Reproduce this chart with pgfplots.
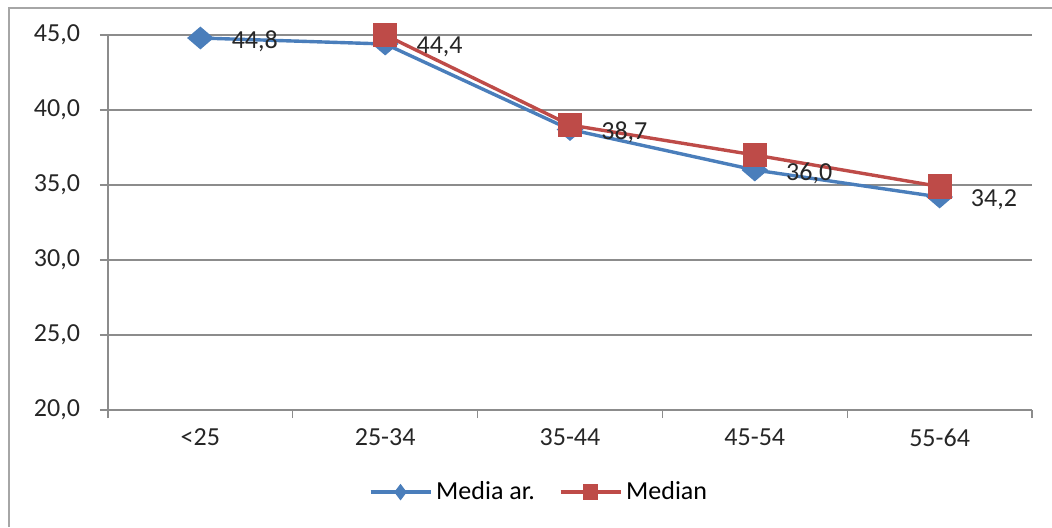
\documentclass[border=0pt]{standalone}
\usepackage{fontspec}
\setmainfont{Carlito}
\usepackage{pgfplots}
\pgfplotsset{compat=1.18}
\usetikzlibrary{calc}

\definecolor{serblue}{HTML}{4A7EBB}
\definecolor{serred}{HTML}{BE4B48}
\definecolor{gridgray}{HTML}{8C8C8C}

\newcommand{\chartfont}{\fontsize{13}{15}\selectfont}

\begin{document}
\begin{tikzpicture}
\begin{axis}[
    name=ax,
    scale only axis,
    width=462pt, height=187.5pt,
    xmin=-0.5, xmax=4.5,
    ymin=20, ymax=45,
    xtick={0,1,2,3,4},
    xticklabels={<25,25-34,35-44,45-54,55-64},
    minor xtick={-0.5,0.5,1.5,2.5,3.5,4.5},
    major x tick style={draw=none},
    ytick={20,25,30,35,40,45},
    ymajorgrids=true,
    grid style={gridgray, line width=0.6pt},
    axis lines*=left,
    axis line style={gridgray, line width=0.6pt, -},
    tick align=outside,
    major tick length=4pt, minor tick length=4pt,
    tick style={gridgray, line width=0.6pt},
    /pgf/number format/assume math mode=true,
    tick label style={font=\chartfont, text=black!85},
    y tick label style={xshift=-6.5pt, /pgf/number format/.cd, fixed, fixed zerofill, precision=1, use comma},
    x tick label style={yshift=-2pt},
    legend style={at={(0.4675,-0.219)}, anchor=center, draw=none, font=\chartfont,
        /tikz/every even column/.append style={column sep=10pt}},
    legend columns=2,
    legend image code/.code={
        \draw[mark repeat=2, mark phase=2, mark options={scale=0.6}]
            plot coordinates {(0pt,0pt) (15pt,0pt) (30pt,0pt)};
    },
    clip=false,
]

\addplot[
    serblue, line width=1.7pt,
    mark=diamond*, mark size=4.6pt,
    mark options={xscale=1.55},
    nodes near coords,
    every node near coord/.append style={anchor=west, xshift=11.5pt, yshift=-1.5pt,
        font=\chartfont, text=black!85,
        /pgf/number format/.cd, fixed, fixed zerofill, precision=1, use comma},
]
coordinates {
    (0, 44.8)
    (1, 44.4)
    (2, 38.7)
    (3, 36.0)
    (4, 34.2)
};
\addlegendentry{Media ar.}

\addplot[
    serred, line width=1.7pt,
    mark=square*, mark size=5.2pt,
]
coordinates {
    (1, 45.0)
    (2, 39.0)
    (3, 37.0)
    (4, 34.9)
};
\addlegendentry{Median}
\end{axis}

% chart frame (top and left edges visible in the reference)
\path[use as bounding box] ($(ax.south west)+(-54pt,-58.5pt)$) rectangle ($(ax.north east)+(10pt,17.5pt)$);
\draw[gray!70, line width=0.8pt]
    ($(ax.south west)+(-49.5pt,-58.5pt)$) |- ($(ax.north east)+(10pt,13.5pt)$);
\end{tikzpicture}
\end{document}
